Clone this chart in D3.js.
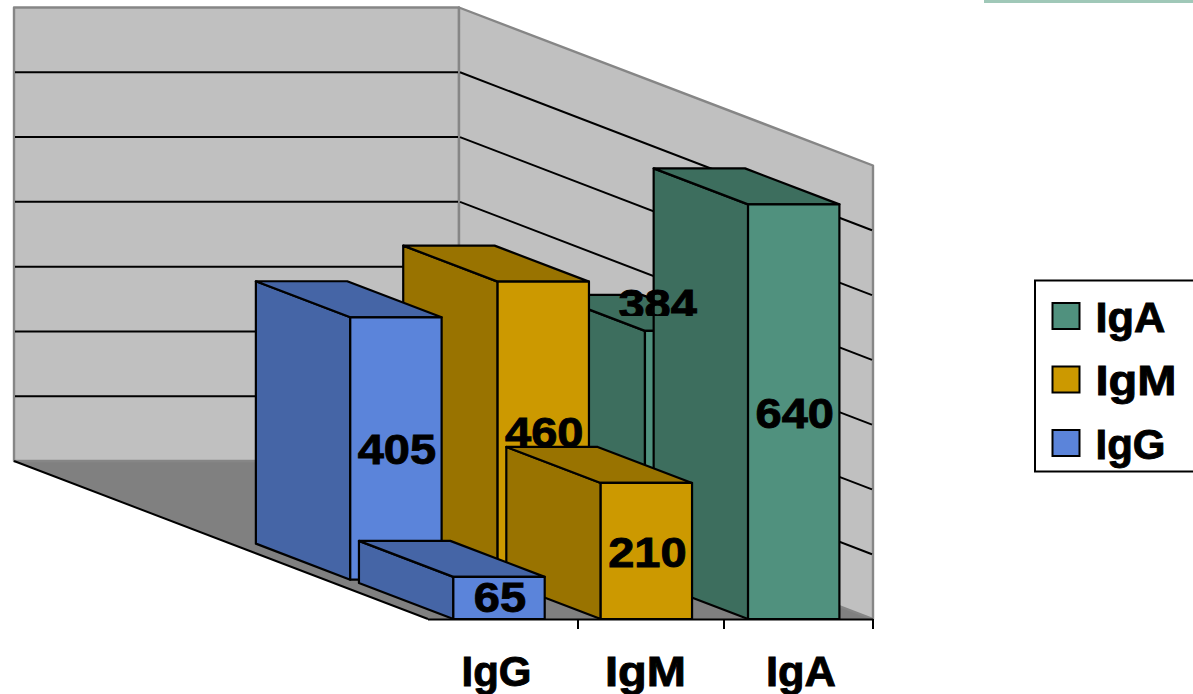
<!DOCTYPE html>
<html>
<head>
<meta charset="utf-8">
<script src="https://cdn.jsdelivr.net/npm/d3@7"></script>
<style>
  html, body { margin: 0; padding: 0; background: #fff; overflow: hidden; }
  text { font-family: "Liberation Sans", Arial, sans-serif; font-weight: bold; fill: #000; stroke: #000; stroke-width: 0.9px; }
</style>
</head>
<body>
<div id="chart"></div>
<script>
//************* data ***************/
var categories = ["IgG", "IgM", "IgA"];
var frontRow = [65, 210, 640];
var backRow = [405, 460, 384];
var gridValues = [100, 200, 300, 400, 500, 600];
var legendNames = ["IgA", "IgM", "IgG"];

//************* colors ***************/
var faceColor = d3.scaleOrdinal().domain(categories).range(["#5b84da", "#cc9900", "#50917e"]);
var sideColor = d3.scaleOrdinal().domain(categories).range(["#4565a6", "#997300", "#3d6e5e"]);
var labelWidth = d3.scaleOrdinal().domain(categories).range([70, 81, 70]);
var labelStart = d3.scaleOrdinal().domain(categories).range([461.5, 605, 766]);

//************* setup svg ***************/
var svg = d3.select("#chart").append("svg")
    .attr("width", 1193)
    .attr("height", 694);

var defs = svg.append("defs");
defs.append("clipPath").attr("id", "clip384")
  .append("rect").attr("x", 600).attr("y", 270).attr("width", 120).attr("height", 46);

//************* scales ***************/
var x = d3.scaleBand().domain(categories).range([428, 873])
    .paddingInner(0.38).paddingOuter(0.2).align(0.43);
var y = d3.scaleLinear().domain([0, 700]).range([619, 165.5]);
var tickX = d3.scaleLinear().domain([0, 1, 2, 3]).range([428, 578, 724, 873]);

// depth runs 0 (front) to 1 (back wall), shifts a point up and to the left
var depthX = d3.scaleLinear().domain([0, 1]).range([0, -414]);
var depthY = d3.scaleLinear().domain([0, 1]).range([0, -158]);
var rowDepth = { front: 0, back: 0.249 };
var barDepth = 0.228;

function pt(px, value, depth) {
  return [px + depthX(depth), y(value) + depthY(depth)];
}
function poly(sel, pts, fill, stroke, width) {
  return sel.append("polygon")
    .attr("points", pts.map(function(p){ return p.join(","); }).join(" "))
    .attr("fill", fill)
    .attr("stroke", stroke)
    .attr("stroke-width", width)
    .attr("stroke-linejoin", "round");
}

//************* walls and floor ***************/
var walls = svg.append("g");
poly(walls, [pt(428, 0, 1), pt(873, 0, 1), pt(873, 0, 0), pt(428, 0, 0)], "#808080", "none", 0);
poly(walls, [pt(428, 0, 1), pt(873, 0, 1), pt(873, 700, 1), pt(428, 700, 1)], "#c0c0c0", "#868686", 2.4);
poly(walls, [pt(873, 0, 1), pt(873, 0, 0), pt(873, 700, 0), pt(873, 700, 1)], "#c0c0c0", "#868686", 2.4);

gridValues.forEach(function(v){
  var a = pt(428, v, 1), b = pt(873, v, 1), c = pt(873, v, 0);
  walls.append("line").attr("x1", a[0] + 1).attr("y1", a[1]).attr("x2", b[0] - 1).attr("y2", b[1])
    .attr("stroke", "#000").attr("stroke-width", 2);
  walls.append("line").attr("x1", b[0] + 1).attr("y1", b[1]).attr("x2", c[0] - 1).attr("y2", c[1])
    .attr("stroke", "#000").attr("stroke-width", 2);
});

// floor's left edge
var f0 = pt(428, 0, 1), f1 = pt(428, 0, 0);
walls.append("line").attr("x1", f0[0]).attr("y1", f0[1]).attr("x2", f1[0]).attr("y2", f1[1])
  .attr("stroke", "#000").attr("stroke-width", 2);

//************* bars ***************/
// nearest bars are on the left, so each row is painted right to left, back row first
function drawBar(i, values, depth) {
  var cat = categories[i], v = values[i];
  var g = svg.append("g");
  var x0 = x(cat), x1 = x0 + x.bandwidth();
  var d2 = depth + barDepth;
  var ink = "#000";
  poly(g, [pt(x0, 0, depth), pt(x0, 0, d2), pt(x0, v, d2), pt(x0, v, depth)], sideColor(cat), ink, 2.2);
  poly(g, [pt(x0, v, depth), pt(x0, v, d2), pt(x1, v, d2), pt(x1, v, depth)], sideColor(cat), ink, 2.2);
  poly(g, [pt(x0, 0, depth), pt(x0, v, depth), pt(x1, v, depth), pt(x1, 0, depth)], faceColor(cat), ink, 2.2);
  return g;
}
function drawLabel(g, i, values, depth, dx, dy) {
  var cat = categories[i], v = values[i];
  var c = pt(x(cat) + x.bandwidth() / 2, v / 2, depth);
  return g.append("text")
    .attr("transform", "translate(" + (c[0] + dx) + "," + (c[1] + dy) + ") scale(1.12,1)")
    .attr("text-anchor", "middle")
    .attr("font-size", "42px")
    .text(v);
}

// back row: the 384 label was dragged up and left in the source chart, it goes on last
d3.range(2, -1, -1).forEach(function(i){
  var g = drawBar(i, backRow, rowDepth.back);
  if (i !== 2) drawLabel(g, i, backRow, rowDepth.back, 1, 16);
});
d3.range(2, -1, -1).forEach(function(i){
  var g = drawBar(i, frontRow, rowDepth.front);
  drawLabel(g, i, frontRow, rowDepth.front, 1, i === 0 ? 14 : 16);
});
drawLabel(svg.append("g").attr("clip-path", "url(#clip384)"), 2, backRow, rowDepth.back, -33, -136);

//************* axis ***************/
var axisG = svg.append("g");
axisG.append("line").attr("x1", tickX(0)).attr("x2", tickX(3)).attr("y1", 619.5).attr("y2", 619.5)
  .attr("stroke", "#000").attr("stroke-width", 2);
[1, 2, 3].forEach(function(t){
  axisG.append("line").attr("x1", tickX(t)).attr("x2", tickX(t)).attr("y1", 619).attr("y2", 629)
    .attr("stroke", "#000").attr("stroke-width", 2);
});
categories.forEach(function(c){
  axisG.append("text")
    .attr("x", labelStart(c))
    .attr("y", 686)
    .attr("font-size", "42px")
    .attr("textLength", labelWidth(c))
    .attr("lengthAdjust", "spacingAndGlyphs")
    .text(c);
});

//************* legend ***************/
var legend = svg.append("g");
legend.append("rect").attr("x", 1035).attr("y", 280.5).attr("width", 170).attr("height", 191)
  .attr("fill", "#fff").attr("stroke", "#000").attr("stroke-width", 2);
legendNames.forEach(function(name, i){
  var row = legend.append("g").attr("transform", "translate(0," + (i * 63.5) + ")");
  row.append("rect").attr("x", 1052.5).attr("y", 303).attr("width", 27).attr("height", 26)
    .attr("fill", faceColor(name)).attr("stroke", "#000").attr("stroke-width", 2);
  row.append("text")
    .attr("x", 1095.5)
    .attr("y", 331.5)
    .attr("font-size", "42px")
    .attr("textLength", labelWidth(name))
    .attr("lengthAdjust", "spacingAndGlyphs")
    .text(name);
});

//************* top strip ***************/
svg.append("rect").attr("x", 984).attr("y", 0).attr("width", 209).attr("height", 3).attr("fill", "#a0c8b8");
</script>
</body>
</html>
